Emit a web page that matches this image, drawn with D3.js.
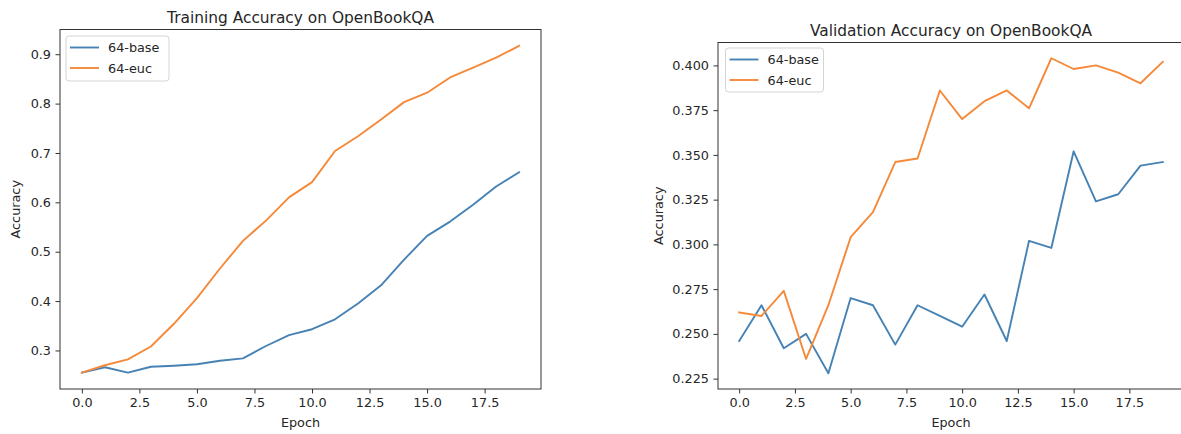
<!DOCTYPE html>
<html>
<head>
<meta charset="utf-8">
<script src="https://cdn.jsdelivr.net/npm/d3@7/dist/d3.min.js"></script>
<style>
  html, body { margin: 0; padding: 0; background: #fff; }
  svg { display: block; font-family: "DejaVu Sans", sans-serif; }
</style>
</head>
<body>
<svg id="fig" width="1181" height="434"></svg>
<script>
// Epochs 0..19
const epochs = d3.range(20);

// Training accuracy per epoch
const trainBase = [0.255, 0.266, 0.255, 0.267, 0.269, 0.272, 0.279, 0.284, 0.309, 0.331,
                   0.343, 0.363, 0.395, 0.432, 0.484, 0.532, 0.561, 0.595, 0.632, 0.661];
const trainEuc  = [0.255, 0.270, 0.282, 0.308, 0.354, 0.406, 0.466, 0.522, 0.563, 0.610,
                   0.641, 0.704, 0.734, 0.768, 0.803, 0.822, 0.853, 0.873, 0.893, 0.917];

// Validation accuracy per epoch
const valBase = [0.246, 0.266, 0.242, 0.250, 0.228, 0.270, 0.266, 0.244, 0.266, 0.260,
                 0.254, 0.272, 0.246, 0.302, 0.298, 0.352, 0.324, 0.328, 0.344, 0.346];
const valEuc  = [0.262, 0.260, 0.274, 0.236, 0.266, 0.304, 0.318, 0.346, 0.348, 0.386,
                 0.370, 0.380, 0.386, 0.376, 0.404, 0.398, 0.400, 0.396, 0.390, 0.402];

const seriesNames = ["64-base", "64-euc"];
const seriesColors = ["#4682b4", "#f5893a"];

const xTicks = [0, 2.5, 5, 7.5, 10, 12.5, 15, 17.5];
const trainYTicks = [0.3, 0.4, 0.5, 0.6, 0.7, 0.8, 0.9];
const valYTicks = [0.225, 0.250, 0.275, 0.300, 0.325, 0.350, 0.375, 0.400];

const svg = d3.select("#fig");
const TEXT = "#262626";
const FS = 12.8;

// Pad a data extent by 5% on each side
function padded(ext) {
  const m = (ext[1] - ext[0]) * 0.05;
  return [ext[0] - m, ext[1] + m];
}

function panel(opts) {
  const { left, right, top, bottom, title, series, yTicks, yFmt, legend, yLabelX } = opts;
  const g = svg.append("g");

  const x = d3.scaleLinear().domain(padded(d3.extent(epochs))).range([left, right]);
  const allY = series.flat();
  const y = d3.scaleLinear().domain(padded(d3.extent(allY))).range([bottom, top]);

  // Lines
  const line = d3.line().x((d, i) => x(epochs[i])).y(d => y(d));
  series.forEach((s, k) => {
    g.append("path")
      .datum(s)
      .attr("d", line)
      .attr("fill", "none")
      .attr("stroke", seriesColors[k])
      .attr("stroke-width", 1.9)
      .attr("stroke-linejoin", "round")
      .attr("stroke-linecap", "square");
  });

  // Axes
  const xAxis = d3.axisBottom(x).tickValues(xTicks).tickFormat(d3.format(".1f"))
    .tickSize(4.5).tickPadding(4.5);
  const yAxis = d3.axisLeft(y).tickValues(yTicks).tickFormat(d3.format(yFmt))
    .tickSize(4.5).tickPadding(4.5);

  const gx = g.append("g").attr("transform", `translate(0,${bottom})`).call(xAxis);
  const gy = g.append("g").attr("transform", `translate(${left},0)`).call(yAxis);
  [gx, gy].forEach(a => {
    a.select(".domain").remove();
    a.selectAll(".tick line").attr("stroke", "#333").attr("stroke-width", 1);
    a.selectAll(".tick text").attr("fill", TEXT).style("font-size", FS + "px")
      .style("font-family", "DejaVu Sans, sans-serif");
  });

  // Frame
  g.append("rect")
    .attr("x", left).attr("y", top)
    .attr("width", right - left).attr("height", bottom - top)
    .attr("fill", "none").attr("stroke", "#333").attr("stroke-width", 1);

  // Title and axis labels
  g.append("text")
    .attr("x", (left + right) / 2).attr("y", top - 7)
    .attr("text-anchor", "middle").attr("fill", TEXT)
    .style("font-size", "15.4px").text(title);

  g.append("text")
    .attr("x", (left + right) / 2).attr("y", bottom + 38)
    .attr("text-anchor", "middle").attr("fill", TEXT)
    .style("font-size", FS + "px").text("Epoch");

  g.append("text")
    .attr("transform", `translate(${yLabelX},${(top + bottom) / 2}) rotate(-90)`)
    .attr("text-anchor", "middle").attr("dominant-baseline", "central").attr("fill", TEXT)
    .style("font-size", FS + "px").text("Accuracy");

  // Legend
  const lg = g.append("g").attr("transform", `translate(${legend.x},${legend.y})`);
  lg.append("rect")
    .attr("width", legend.w).attr("height", legend.h)
    .attr("rx", 3).attr("ry", 3)
    .attr("fill", "rgba(255,255,255,0.8)")
    .attr("stroke", "#d4d4d4").attr("stroke-width", 1);
  seriesNames.forEach((name, k) => {
    const cy = 11.5 + k * 20.5;
    lg.append("line")
      .attr("x1", 4).attr("x2", 33).attr("y1", cy).attr("y2", cy)
      .attr("stroke", seriesColors[k]).attr("stroke-width", 1.9);
    lg.append("text")
      .attr("x", 42).attr("y", cy)
      .attr("dominant-baseline", "central").attr("fill", TEXT)
      .style("font-size", FS + "px").text(name);
  });
}

panel({
  left: 60, right: 541, top: 29.5, bottom: 389,
  title: "Training Accuracy on OpenBookQA",
  series: [trainBase, trainEuc],
  yTicks: trainYTicks, yFmt: ".1f",
  yLabelX: 15,
  legend: { x: 66, y: 36, w: 103, h: 45 }
});

panel({
  left: 718, right: 1184, top: 42.5, bottom: 389,
  title: "Validation Accuracy on OpenBookQA",
  series: [valBase, valEuc],
  yTicks: valYTicks, yFmt: ".3f",
  yLabelX: 658,
  legend: { x: 725.5, y: 48, w: 98, h: 44 }
});
</script>
</body>
</html>
